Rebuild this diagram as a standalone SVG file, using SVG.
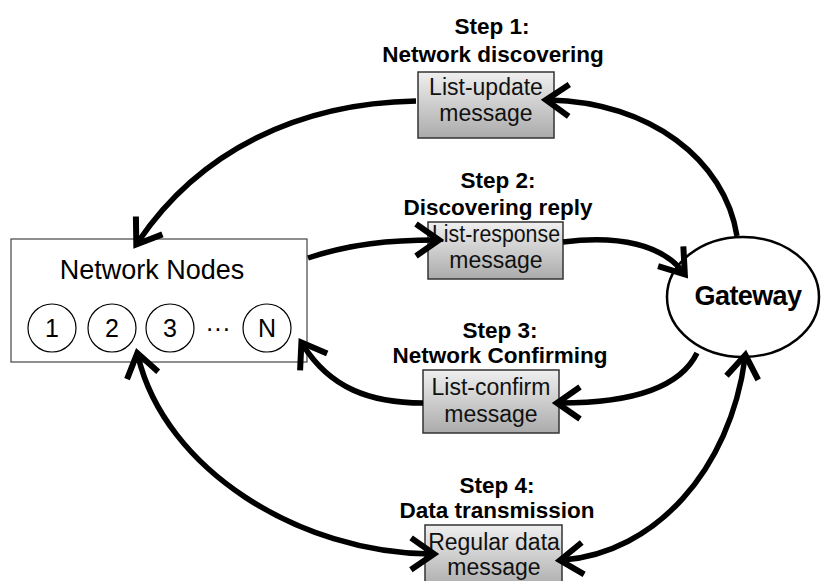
<svg xmlns="http://www.w3.org/2000/svg" width="822" height="581" viewBox="0 0 822 581">
<style>
.lbl{font-family:"Liberation Sans",Arial,sans-serif;font-weight:bold;font-size:22.5px;fill:#000;text-anchor:middle}
.msg{font-family:"Liberation Sans",Arial,sans-serif;font-size:23px;fill:#111;text-anchor:middle}
.box{fill:url(#g);stroke:#333;stroke-width:1.5}
.num{font-family:"Liberation Sans",Arial,sans-serif;font-size:25px;fill:#000;text-anchor:middle}
.c{fill:#fff;stroke:#000;stroke-width:1.2}
.conn path{fill:none;stroke:#000;stroke-width:5.5}
.a{marker-end:url(#ah)}
.d{marker-start:url(#ah);marker-end:url(#ah)}
</style>
<defs>
<linearGradient id="g" x1="0" y1="0" x2="0" y2="1">
<stop offset="0" stop-color="#efefef"/>
<stop offset="1" stop-color="#ababab"/>
</linearGradient>
<marker id="ah" viewBox="-30 -20 36 40" refX="-3" refY="0" markerWidth="36" markerHeight="40" markerUnits="userSpaceOnUse" orient="auto-start-reverse" overflow="visible">
<path d="M-23,-16 L0,0 L-23,16" fill="none" stroke="#000" stroke-width="6"/>
</marker>
</defs>
<rect width="822" height="581" fill="#fff"/>

<g id="network-nodes">
<rect x="11" y="239" width="296" height="123" fill="#fff" stroke="#444" stroke-width="1.2"/>
<text x="152" y="279" font-family="Liberation Sans, Arial, sans-serif" font-size="27" text-anchor="middle">Network Nodes</text>
<circle class="c" cx="52" cy="328" r="24"/>
<text class="num" x="52" y="337">1</text>
<circle class="c" cx="112" cy="328" r="24"/>
<text class="num" x="112" y="337">2</text>
<circle class="c" cx="170" cy="328" r="24"/>
<text class="num" x="170" y="337">3</text>
<text class="num" x="218" y="337">···</text>
<circle class="c" cx="267" cy="328" r="24"/>
<text class="num" x="267" y="337">N</text>
</g>

<g id="gateway">
<ellipse cx="743" cy="297" rx="76" ry="60" fill="#fff" stroke="#000" stroke-width="2.5"/>
<text x="748" y="305" font-family="Liberation Sans, Arial, sans-serif" font-weight="bold" font-size="27" letter-spacing="-0.6" text-anchor="middle">Gateway</text>
</g>

<g id="step1">
<text class="lbl" x="492" y="34">Step 1:</text>
<text class="lbl" x="493" y="62">Network discovering</text>
<rect class="box" x="418" y="72" width="136" height="66"/>
<text class="msg" x="486" y="95">List-update</text>
<text class="msg" x="486" y="121">message</text>
</g>

<g id="step2">
<text class="lbl" x="498" y="188">Step 2:</text>
<text class="lbl" x="498" y="215">Discovering reply</text>
<rect class="box" x="428" y="222" width="135" height="57"/>
<text class="msg" x="496" y="242" textLength="128" lengthAdjust="spacingAndGlyphs">List-response</text>
<text class="msg" x="496" y="268">message</text>
</g>

<g id="step3">
<text class="lbl" x="500" y="338">Step 3:</text>
<text class="lbl" x="500" y="363">Network Confirming</text>
<rect class="box" x="423" y="370" width="136" height="63"/>
<text class="msg" x="491" y="395">List-confirm</text>
<text class="msg" x="491" y="422">message</text>
</g>

<g id="step4">
<text class="lbl" x="497" y="493">Step 4:</text>
<text class="lbl" x="497" y="518">Data transmission</text>
<rect class="box" x="425" y="525" width="137" height="64"/>
<text class="msg" x="494" y="550">Regular data</text>
<text class="msg" x="494" y="575">message</text>
</g>

<g id="connectors" class="conn">
<path class="a" d="M737,236 C725,160 650,102 549,100"/>
<path class="a" d="M416,101 C300,103 200,150 138,242"/>
<path class="a" d="M308,258 C350,244 390,240 436,240"/>
<path class="a" d="M563,242 C620,235 662,245 683,272"/>
<path class="a" d="M697,353 C680,388 630,403 560,403"/>
<path class="a" d="M423,403 C370,403 330,388 303,345"/>
<path class="d" d="M138,356 C165,470 300,553 431,554"/>
<path class="d" d="M745,358 C730,470 655,553 563,560"/>
</g>
</svg>
